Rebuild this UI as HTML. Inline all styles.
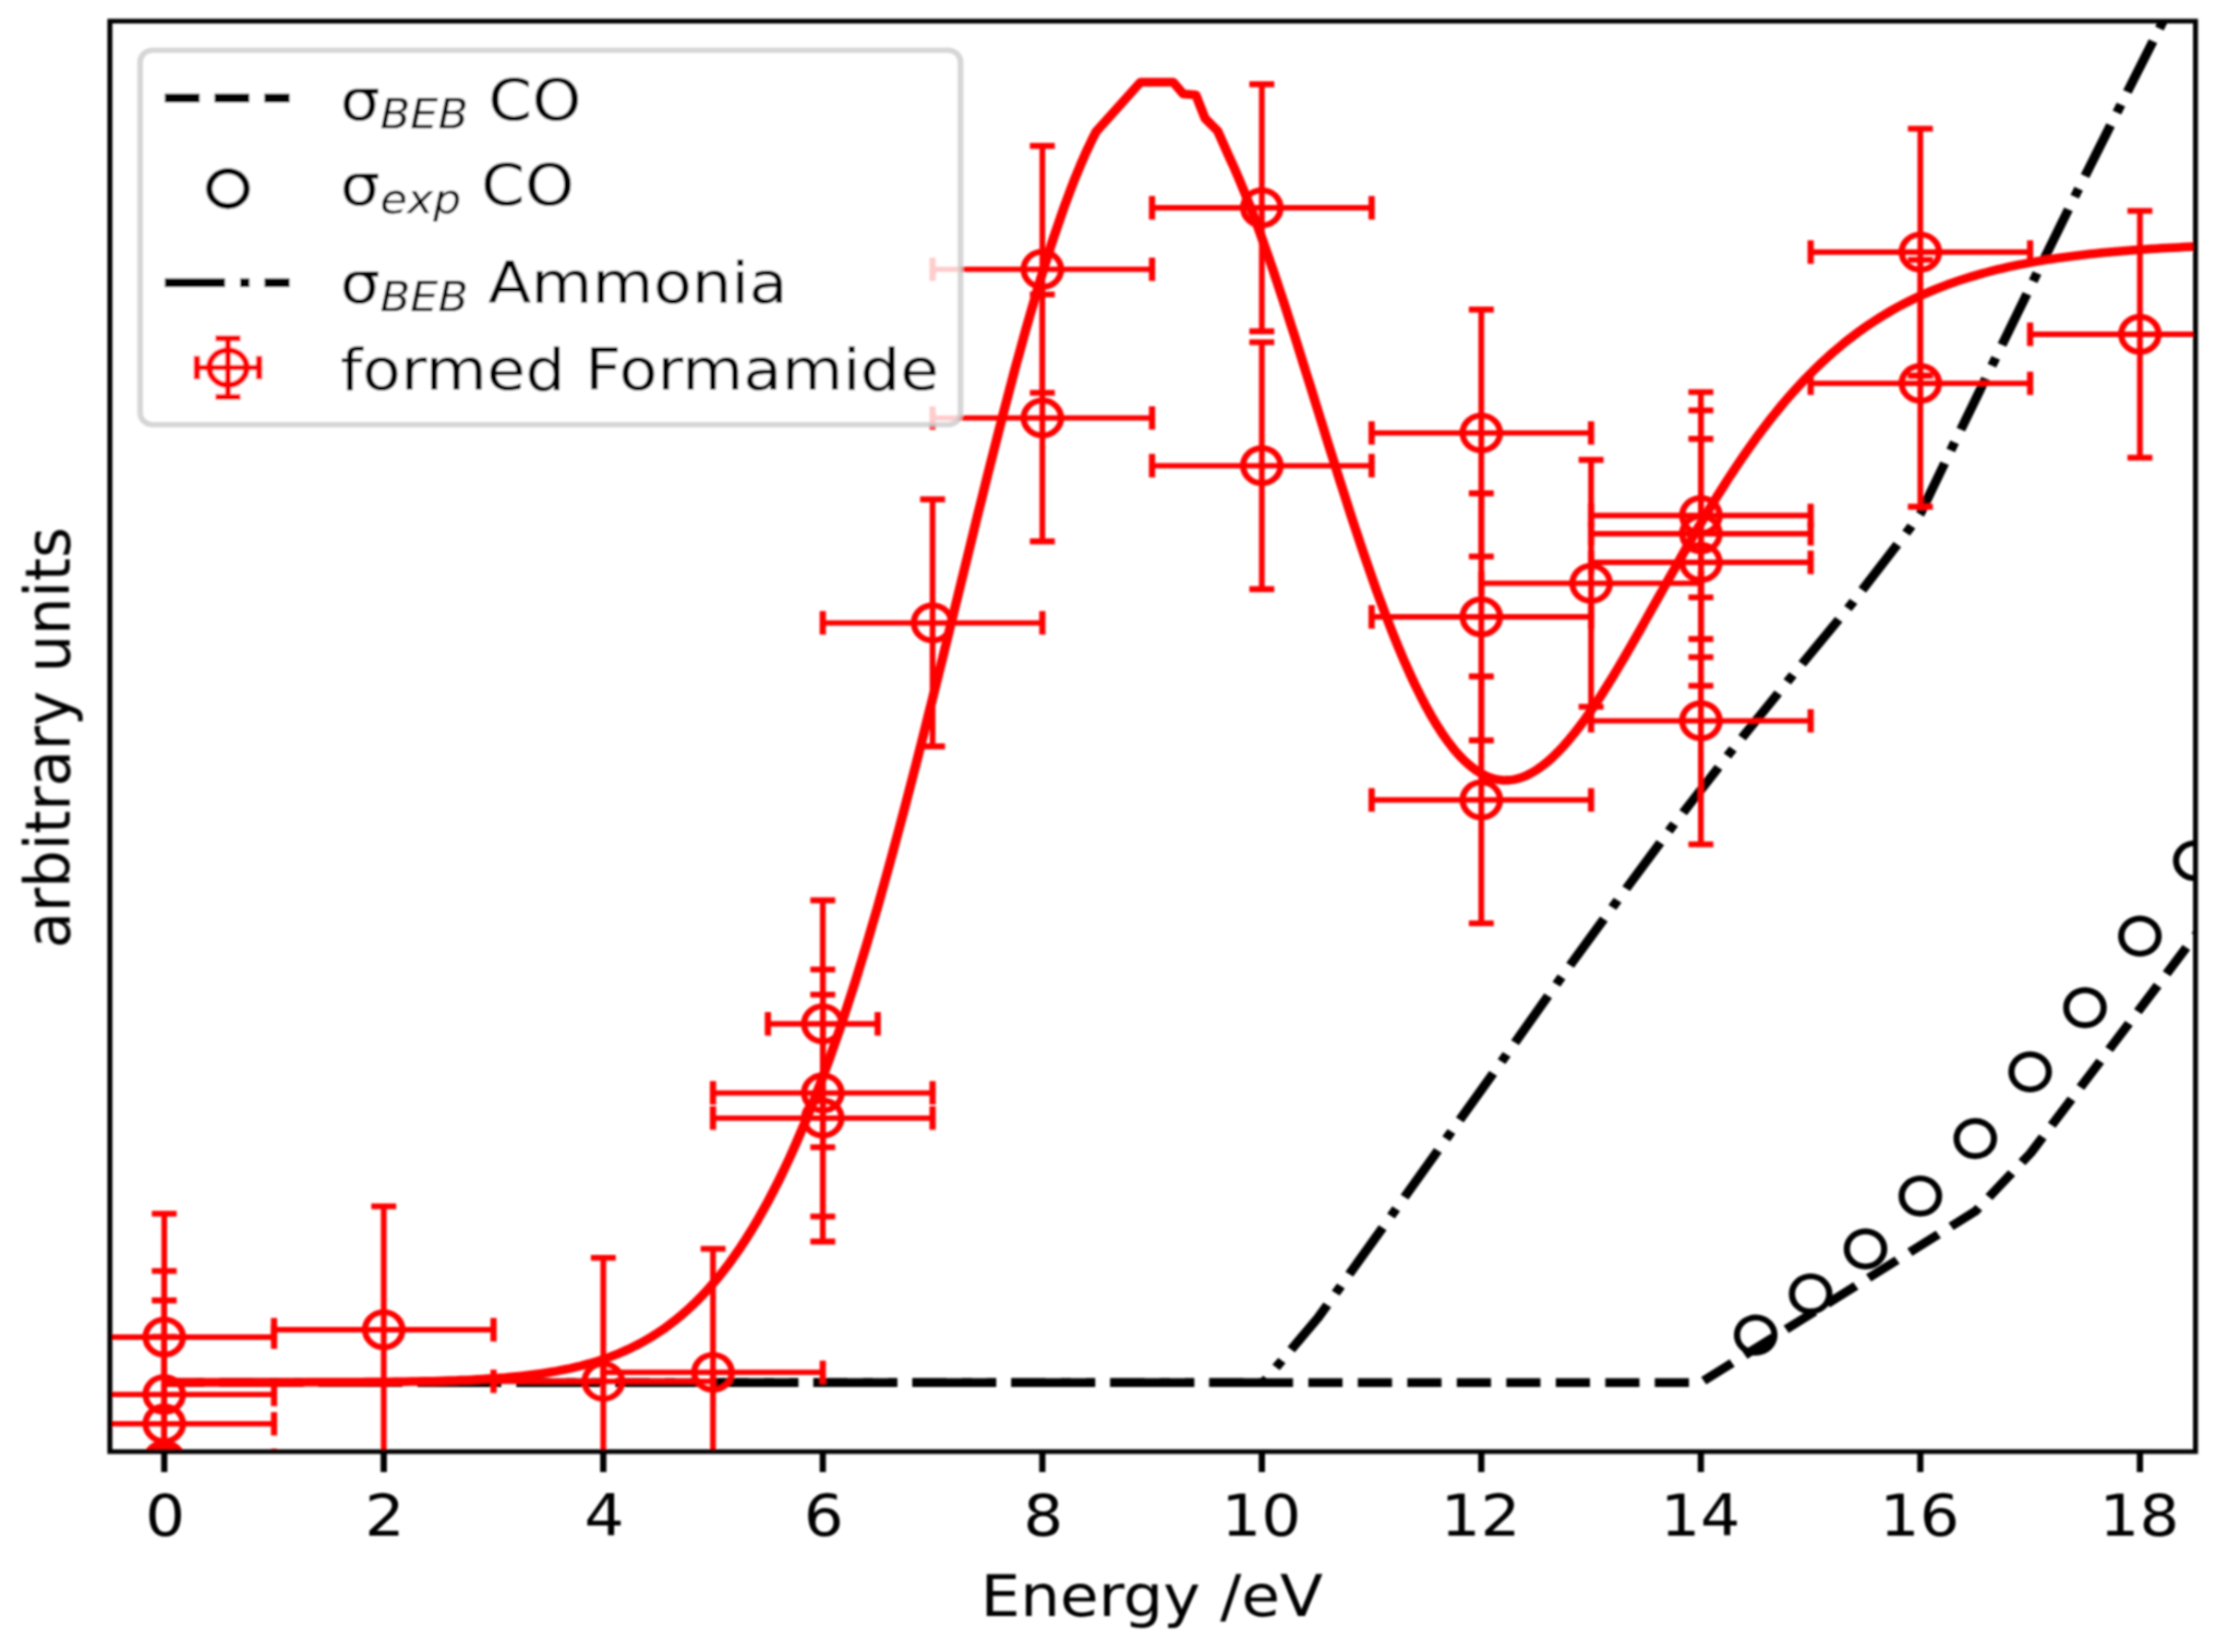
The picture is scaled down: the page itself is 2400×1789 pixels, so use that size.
<!DOCTYPE html>
<html><head><meta charset="utf-8"><title>Formamide formation vs electron energy</title>
<style>html,body{margin:0;padding:0;background:#fff}svg{display:block}</style></head>
<body><svg width="2400" height="1789" viewBox="0 0 2400 1789" font-family="'DejaVu Sans','Liberation Sans',sans-serif">
<rect width="2400" height="1789" fill="#fff"/>
<defs><clipPath id="ax"><rect x="119.0" y="24.36" width="2258.8" height="1647.98"/></clipPath></defs>
<defs><filter id="soft" filterUnits="userSpaceOnUse" x="-20" y="-20" width="2440" height="1830"><feGaussianBlur stdDeviation="1.3"/></filter></defs>
<g filter="url(#soft)">
<g transform="scale(1,0.94)">
<g clip-path="url(#ax)">
<path d="M178.0,1592.9 L1841.9,1592.9 L2139.6,1395.3 L2199.1,1328.6 L2377.4,1078.3 L2400.0,1046.6" fill="none" stroke="#000" stroke-width="10.12" stroke-dasharray="37 16.6" stroke-dashoffset="47.4" stroke-linejoin="round"/>
<path d="M178.0,1592.9 L1368.0,1592.9 L1427.5,1518.1 L1450.0,1484.8 L1509.9,1395.9 L1569.0,1308.0 L1628.9,1219.0 L1688.8,1129.1 L1749.3,1040.9 L1810.9,952.4 L1874.1,866.5 L1938.9,781.3 L2004.8,696.4 L2067.7,609.6 L2080.2,591.0 L2115.1,513.6 L2159.5,416.4 L2204.4,318.6 L2249.3,221.6 L2295.1,124.6 L2340.6,28.9 L2355.0,-1.6" fill="none" stroke="#000" stroke-width="10.12" stroke-dasharray="64.7 16.2 10.1 16.2" stroke-dashoffset="47.6" stroke-linejoin="round"/>
<circle cx="1901.5" cy="1538.1" r="20.25" fill="none" stroke="#000" stroke-width="6.75"/>
<circle cx="1961.0" cy="1490.6" r="20.25" fill="none" stroke="#000" stroke-width="6.75"/>
<circle cx="2020.4" cy="1438.9" r="20.25" fill="none" stroke="#000" stroke-width="6.75"/>
<circle cx="2079.8" cy="1377.9" r="20.25" fill="none" stroke="#000" stroke-width="6.75"/>
<circle cx="2139.3" cy="1311.7" r="20.25" fill="none" stroke="#000" stroke-width="6.75"/>
<circle cx="2198.7" cy="1234.9" r="20.25" fill="none" stroke="#000" stroke-width="6.75"/>
<circle cx="2258.1" cy="1160.9" r="20.25" fill="none" stroke="#000" stroke-width="6.75"/>
<circle cx="2317.6" cy="1078.5" r="20.25" fill="none" stroke="#000" stroke-width="6.75"/>
<circle cx="2377.0" cy="991.6" r="20.25" fill="none" stroke="#000" stroke-width="6.75"/>
<path d="M177.9,1592.5 L183.8,1592.5 L189.8,1592.5 L195.7,1592.5 L201.7,1592.5 L207.6,1592.5 L213.6,1592.5 L219.5,1592.5 L225.4,1592.5 L231.4,1592.5 L237.3,1592.5 L243.3,1592.5 L249.2,1592.5 L255.2,1592.5 L261.1,1592.5 L267.1,1592.5 L273.0,1592.5 L278.9,1592.5 L284.9,1592.5 L290.8,1592.5 L296.8,1592.5 L302.7,1592.5 L308.7,1592.5 L314.6,1592.5 L320.5,1592.5 L326.5,1592.5 L332.4,1592.4 L338.4,1592.4 L344.3,1592.4 L350.3,1592.4 L356.2,1592.4 L362.1,1592.3 L368.1,1592.3 L374.0,1592.3 L380.0,1592.3 L385.9,1592.2 L391.9,1592.2 L397.8,1592.1 L403.8,1592.1 L409.7,1592.0 L415.6,1592.0 L421.6,1591.9 L427.5,1591.8 L433.5,1591.8 L439.4,1591.7 L445.4,1591.6 L451.3,1591.5 L457.2,1591.3 L463.2,1591.2 L469.1,1591.1 L475.1,1590.9 L481.0,1590.7 L487.0,1590.5 L492.9,1590.3 L498.8,1590.0 L504.8,1589.8 L510.7,1589.5 L516.7,1589.2 L522.6,1588.8 L528.6,1588.4 L534.5,1588.0 L540.5,1587.6 L546.4,1587.1 L552.3,1586.5 L558.3,1585.9 L564.2,1585.3 L570.2,1584.6 L576.1,1583.8 L582.1,1583.0 L588.0,1582.1 L593.9,1581.1 L599.9,1580.1 L605.8,1578.9 L611.8,1577.7 L617.7,1576.4 L623.7,1574.9 L629.6,1573.4 L635.5,1571.7 L641.5,1569.9 L647.4,1568.0 L653.4,1565.9 L659.3,1563.7 L665.3,1561.3 L671.2,1558.8 L677.2,1556.0 L683.1,1553.1 L689.0,1550.0 L695.0,1546.6 L700.9,1543.1 L706.9,1539.3 L712.8,1535.2 L718.8,1531.0 L724.7,1526.4 L730.6,1521.6 L736.6,1516.4 L742.5,1511.0 L748.5,1505.2 L754.4,1499.2 L760.4,1492.7 L766.3,1485.9 L772.2,1478.8 L778.2,1471.3 L784.1,1463.3 L790.1,1455.0 L796.0,1446.2 L802.0,1437.0 L807.9,1427.4 L813.9,1417.3 L819.8,1406.8 L825.7,1395.7 L831.7,1384.2 L837.6,1372.2 L843.6,1359.7 L849.5,1346.7 L855.5,1333.1 L861.4,1319.1 L867.3,1304.4 L873.3,1289.3 L879.2,1273.6 L885.2,1257.4 L891.1,1240.7 L897.1,1223.4 L903.0,1205.5 L909.0,1187.2 L914.9,1168.3 L920.8,1148.9 L926.8,1129.0 L932.7,1108.5 L938.7,1087.6 L944.6,1066.2 L950.6,1044.3 L956.5,1022.0 L962.4,999.3 L968.4,976.1 L974.3,952.6 L980.3,928.7 L986.2,904.5 L992.2,879.9 L998.1,855.1 L1004.0,830.0 L1010.0,804.7 L1015.9,779.3 L1021.9,753.7 L1027.8,727.9 L1033.8,702.1 L1039.7,676.3 L1045.7,650.5 L1051.6,624.7 L1057.5,599.0 L1063.5,573.5 L1069.4,548.1 L1075.4,523.0 L1081.3,498.2 L1087.3,473.6 L1093.2,449.5 L1099.1,425.7 L1105.1,402.5 L1111.0,379.7 L1117.0,357.5 L1122.9,335.8 L1128.9,314.8 L1134.8,294.5 L1140.7,275.0 L1146.7,256.2 L1152.6,238.2 L1158.6,221.0 L1164.5,204.7 L1170.5,189.4 L1176.4,175.0 L1182.4,161.6 L1187.1,151.7 L1235.2,94.7 L1270.6,94.7 L1281.5,108.2 L1295.1,109.3 L1305.1,136.3 L1318.7,150.7 L1330.9,179.9 L1336.9,193.8 L1342.8,208.5 L1348.8,224.0 L1354.7,240.1 L1360.7,256.8 L1366.6,274.2 L1372.5,292.0 L1378.5,310.4 L1384.4,329.2 L1390.4,348.4 L1396.3,367.9 L1402.3,387.6 L1408.2,407.6 L1414.1,427.8 L1420.1,448.1 L1426.0,468.4 L1432.0,488.8 L1437.9,509.1 L1443.9,529.3 L1449.8,549.4 L1455.8,569.2 L1461.7,588.9 L1467.6,608.2 L1473.6,627.2 L1479.5,645.8 L1485.5,664.0 L1491.4,681.8 L1497.4,699.0 L1503.3,715.7 L1509.2,731.8 L1515.2,747.3 L1521.1,762.2 L1527.1,776.4 L1533.0,789.9 L1539.0,802.7 L1544.9,814.7 L1550.8,826.0 L1556.8,836.5 L1562.7,846.2 L1568.7,855.1 L1574.6,863.2 L1580.6,870.5 L1586.5,876.9 L1592.5,882.5 L1598.4,887.3 L1604.3,891.2 L1610.3,894.4 L1616.2,896.7 L1622.2,898.2 L1628.1,898.9 L1634.1,898.8 L1640.0,898.0 L1645.9,896.4 L1651.9,894.1 L1657.8,891.0 L1663.8,887.3 L1669.7,882.9 L1675.7,877.9 L1681.6,872.3 L1687.5,866.1 L1693.5,859.4 L1699.4,852.1 L1705.4,844.3 L1711.3,836.1 L1717.3,827.5 L1723.2,818.5 L1729.2,809.1 L1735.1,799.4 L1741.0,789.4 L1747.0,779.1 L1752.9,768.6 L1758.9,757.9 L1764.8,747.0 L1770.8,736.0 L1776.7,724.9 L1782.6,713.7 L1788.6,702.5 L1794.5,691.2 L1800.5,679.9 L1806.4,668.6 L1812.4,657.4 L1818.3,646.3 L1824.2,635.2 L1830.2,624.2 L1836.1,613.4 L1842.1,602.6 L1848.0,592.1 L1854.0,581.7 L1859.9,571.4 L1865.9,561.4 L1871.8,551.5 L1877.7,541.9 L1883.7,532.4 L1889.6,523.2 L1895.6,514.2 L1901.5,505.4 L1907.5,496.9 L1913.4,488.5 L1919.3,480.4 L1925.3,472.6 L1931.2,464.9 L1937.2,457.5 L1943.1,450.4 L1949.1,443.4 L1955.0,436.7 L1961.0,430.2 L1966.9,423.9 L1972.8,417.9 L1978.8,412.0 L1984.7,406.4 L1990.7,401.0 L1996.6,395.7 L2002.6,390.7 L2008.5,385.9 L2014.4,381.2 L2020.4,376.7 L2026.3,372.4 L2032.3,368.3 L2038.2,364.3 L2044.2,360.5 L2050.1,356.8 L2056.0,353.3 L2062.0,350.0 L2067.9,346.8 L2073.9,343.7 L2079.8,340.7 L2085.8,337.9 L2091.7,335.2 L2097.7,332.6 L2103.6,330.1 L2109.5,327.7 L2115.5,325.5 L2121.4,323.3 L2127.4,321.2 L2133.3,319.3 L2139.3,317.4 L2145.2,315.6 L2151.1,313.8 L2157.1,312.2 L2163.0,310.6 L2169.0,309.1 L2174.9,307.7 L2180.9,306.3 L2186.8,305.0 L2192.7,303.8 L2198.7,302.6 L2204.6,301.4 L2210.6,300.4 L2216.5,299.3 L2222.5,298.4 L2228.4,297.4 L2234.4,296.5 L2240.3,295.7 L2246.2,294.9 L2252.2,294.1 L2258.1,293.4 L2264.1,292.6 L2270.0,292.0 L2276.0,291.3 L2281.9,290.7 L2287.8,290.2 L2293.8,289.6 L2299.7,289.1 L2305.7,288.6 L2311.6,288.1 L2317.6,287.6 L2323.5,287.2 L2329.4,286.8 L2335.4,286.4 L2341.3,286.0 L2347.3,285.7 L2353.2,285.3 L2359.2,285.0 L2365.1,284.7 L2371.1,284.4 L2377.0,284.1 L2382.9,283.9 L2388.9,283.6 L2394.8,283.4" fill="none" stroke="#f00" stroke-width="10.12" stroke-linejoin="round" stroke-linecap="butt"/>
<circle cx="177.9" cy="1540.4" r="20.25" fill="none" stroke="#f00" stroke-width="6.75"/><path d="M59.0,1540.4H296.8M177.9,1398.2V1682.7" stroke="#f00" stroke-width="6.21" fill="none"/><path d="M59.0,1526.9v27.0M296.8,1526.9v27.0M164.4,1398.2h27.0M164.4,1682.7h27.0" stroke="#f00" stroke-width="6.75" fill="none"/>
<circle cx="177.9" cy="1606.5" r="20.25" fill="none" stroke="#f00" stroke-width="6.75"/><path d="M59.0,1606.5H296.8M177.9,1464.3V1748.7" stroke="#f00" stroke-width="6.21" fill="none"/><path d="M59.0,1593.0v27.0M296.8,1593.0v27.0M164.4,1464.3h27.0M164.4,1748.7h27.0" stroke="#f00" stroke-width="6.75" fill="none"/>
<circle cx="177.9" cy="1640.3" r="20.25" fill="none" stroke="#f00" stroke-width="6.75"/><path d="M59.0,1640.3H296.8M177.9,1498.1V1782.6" stroke="#f00" stroke-width="6.21" fill="none"/><path d="M59.0,1626.8v27.0M296.8,1626.8v27.0M164.4,1498.1h27.0M164.4,1782.6h27.0" stroke="#f00" stroke-width="6.75" fill="none"/>
<circle cx="177.9" cy="1682.4" r="20.25" fill="none" stroke="#f00" stroke-width="6.75"/><path d="M59.0,1682.4H296.8M177.9,1540.2V1824.7" stroke="#f00" stroke-width="6.21" fill="none"/><path d="M59.0,1668.9v27.0M296.8,1668.9v27.0M164.4,1540.2h27.0M164.4,1824.7h27.0" stroke="#f00" stroke-width="6.75" fill="none"/>
<circle cx="415.6" cy="1531.9" r="20.25" fill="none" stroke="#f00" stroke-width="6.75"/><path d="M296.8,1531.9H534.5M415.6,1389.7V1674.1" stroke="#f00" stroke-width="6.21" fill="none"/><path d="M296.8,1518.4v27.0M534.5,1518.4v27.0M402.1,1389.7h27.0M402.1,1674.1h27.0" stroke="#f00" stroke-width="6.75" fill="none"/>
<circle cx="653.4" cy="1591.4" r="20.25" fill="none" stroke="#f00" stroke-width="6.75"/><path d="M534.5,1591.4H772.2M653.4,1449.1V1733.6" stroke="#f00" stroke-width="6.21" fill="none"/><path d="M534.5,1577.9v27.0M772.2,1577.9v27.0M639.9,1449.1h27.0M639.9,1733.6h27.0" stroke="#f00" stroke-width="6.75" fill="none"/>
<circle cx="772.2" cy="1581.0" r="20.25" fill="none" stroke="#f00" stroke-width="6.75"/><path d="M653.4,1581.0H891.1M772.2,1438.7V1723.2" stroke="#f00" stroke-width="6.21" fill="none"/><path d="M653.4,1567.5v27.0M891.1,1567.5v27.0M758.8,1438.7h27.0M758.8,1723.2h27.0" stroke="#f00" stroke-width="6.75" fill="none"/>
<circle cx="891.1" cy="1179.5" r="20.25" fill="none" stroke="#f00" stroke-width="6.75"/><path d="M831.7,1179.5H950.6M891.1,1037.2V1321.7" stroke="#f00" stroke-width="6.21" fill="none"/><path d="M831.7,1166.0v27.0M950.6,1166.0v27.0M877.6,1037.2h27.0M877.6,1321.7h27.0" stroke="#f00" stroke-width="6.75" fill="none"/>
<circle cx="891.1" cy="1259.1" r="20.25" fill="none" stroke="#f00" stroke-width="6.75"/><path d="M772.2,1259.1H1010.0M891.1,1116.9V1401.4" stroke="#f00" stroke-width="6.21" fill="none"/><path d="M772.2,1245.6v27.0M1010.0,1245.6v27.0M877.6,1116.9h27.0M877.6,1401.4h27.0" stroke="#f00" stroke-width="6.75" fill="none"/>
<circle cx="891.1" cy="1288.1" r="20.25" fill="none" stroke="#f00" stroke-width="6.75"/><path d="M772.2,1288.1H1010.0M891.1,1145.9V1430.3" stroke="#f00" stroke-width="6.21" fill="none"/><path d="M772.2,1274.6v27.0M1010.0,1274.6v27.0M877.6,1145.9h27.0M877.6,1430.3h27.0" stroke="#f00" stroke-width="6.75" fill="none"/>
<circle cx="1010.0" cy="717.6" r="20.25" fill="none" stroke="#f00" stroke-width="6.75"/><path d="M891.1,717.6H1128.9M1010.0,575.3V859.8" stroke="#f00" stroke-width="6.21" fill="none"/><path d="M891.1,704.1v27.0M1128.9,704.1v27.0M996.5,575.3h27.0M996.5,859.8h27.0" stroke="#f00" stroke-width="6.75" fill="none"/>
<circle cx="1128.9" cy="310.3" r="20.25" fill="none" stroke="#f00" stroke-width="6.75"/><path d="M1010.0,310.3H1247.7M1128.9,168.1V452.6" stroke="#f00" stroke-width="6.21" fill="none"/><path d="M1010.0,296.8v27.0M1247.7,296.8v27.0M1115.4,168.1h27.0M1115.4,452.6h27.0" stroke="#f00" stroke-width="6.75" fill="none"/>
<circle cx="1128.9" cy="481.5" r="20.25" fill="none" stroke="#f00" stroke-width="6.75"/><path d="M1010.0,481.5H1247.7M1128.9,339.3V623.7" stroke="#f00" stroke-width="6.21" fill="none"/><path d="M1010.0,468.0v27.0M1247.7,468.0v27.0M1115.4,339.3h27.0M1115.4,623.7h27.0" stroke="#f00" stroke-width="6.75" fill="none"/>
<circle cx="1366.6" cy="239.4" r="20.25" fill="none" stroke="#f00" stroke-width="6.75"/><path d="M1247.7,239.4H1485.5M1366.6,97.1V381.6" stroke="#f00" stroke-width="6.21" fill="none"/><path d="M1247.7,225.9v27.0M1485.5,225.9v27.0M1353.1,97.1h27.0M1353.1,381.6h27.0" stroke="#f00" stroke-width="6.75" fill="none"/>
<circle cx="1366.6" cy="536.5" r="20.25" fill="none" stroke="#f00" stroke-width="6.75"/><path d="M1247.7,536.5H1485.5M1366.6,394.3V678.7" stroke="#f00" stroke-width="6.21" fill="none"/><path d="M1247.7,523.0v27.0M1485.5,523.0v27.0M1353.1,394.3h27.0M1353.1,678.7h27.0" stroke="#f00" stroke-width="6.75" fill="none"/>
<circle cx="1604.3" cy="498.8" r="20.25" fill="none" stroke="#f00" stroke-width="6.75"/><path d="M1485.5,498.8H1723.2M1604.3,356.6V641.1" stroke="#f00" stroke-width="6.21" fill="none"/><path d="M1485.5,485.3v27.0M1723.2,485.3v27.0M1590.8,356.6h27.0M1590.8,641.1h27.0" stroke="#f00" stroke-width="6.75" fill="none"/>
<circle cx="1604.3" cy="710.6" r="20.25" fill="none" stroke="#f00" stroke-width="6.75"/><path d="M1485.5,710.6H1723.2M1604.3,568.4V852.9" stroke="#f00" stroke-width="6.21" fill="none"/><path d="M1485.5,697.1v27.0M1723.2,697.1v27.0M1590.8,568.4h27.0M1590.8,852.9h27.0" stroke="#f00" stroke-width="6.75" fill="none"/>
<circle cx="1604.3" cy="921.5" r="20.25" fill="none" stroke="#f00" stroke-width="6.75"/><path d="M1485.5,921.5H1723.2M1604.3,779.3V1063.7" stroke="#f00" stroke-width="6.21" fill="none"/><path d="M1485.5,908.0v27.0M1723.2,908.0v27.0M1590.8,779.3h27.0M1590.8,1063.7h27.0" stroke="#f00" stroke-width="6.75" fill="none"/>
<circle cx="1723.2" cy="672.0" r="20.25" fill="none" stroke="#f00" stroke-width="6.75"/><path d="M1604.3,672.0H1842.1M1723.2,529.8V814.3" stroke="#f00" stroke-width="6.21" fill="none"/><path d="M1604.3,658.5v27.0M1842.1,658.5v27.0M1709.7,529.8h27.0M1709.7,814.3h27.0" stroke="#f00" stroke-width="6.75" fill="none"/>
<circle cx="1842.1" cy="593.9" r="20.25" fill="none" stroke="#f00" stroke-width="6.75"/><path d="M1723.2,593.9H1961.0M1842.1,451.7V736.2" stroke="#f00" stroke-width="6.21" fill="none"/><path d="M1723.2,580.4v27.0M1961.0,580.4v27.0M1828.6,451.7h27.0M1828.6,736.2h27.0" stroke="#f00" stroke-width="6.75" fill="none"/>
<circle cx="1842.1" cy="614.9" r="20.25" fill="none" stroke="#f00" stroke-width="6.75"/><path d="M1723.2,614.9H1961.0M1842.1,472.7V757.1" stroke="#f00" stroke-width="6.21" fill="none"/><path d="M1723.2,601.4v27.0M1961.0,601.4v27.0M1828.6,472.7h27.0M1828.6,757.1h27.0" stroke="#f00" stroke-width="6.75" fill="none"/>
<circle cx="1842.1" cy="647.9" r="20.25" fill="none" stroke="#f00" stroke-width="6.75"/><path d="M1723.2,647.9H1961.0M1842.1,505.6V790.1" stroke="#f00" stroke-width="6.21" fill="none"/><path d="M1723.2,634.4v27.0M1961.0,634.4v27.0M1828.6,505.6h27.0M1828.6,790.1h27.0" stroke="#f00" stroke-width="6.75" fill="none"/>
<circle cx="1842.1" cy="830.4" r="20.25" fill="none" stroke="#f00" stroke-width="6.75"/><path d="M1723.2,830.4H1961.0M1842.1,688.2V972.7" stroke="#f00" stroke-width="6.21" fill="none"/><path d="M1723.2,816.9v27.0M1961.0,816.9v27.0M1828.6,688.2h27.0M1828.6,972.7h27.0" stroke="#f00" stroke-width="6.75" fill="none"/>
<circle cx="2079.8" cy="290.4" r="20.25" fill="none" stroke="#f00" stroke-width="6.75"/><path d="M1961.0,290.4H2198.7M2079.8,148.2V432.7" stroke="#f00" stroke-width="6.21" fill="none"/><path d="M1961.0,276.9v27.0M2198.7,276.9v27.0M2066.3,148.2h27.0M2066.3,432.7h27.0" stroke="#f00" stroke-width="6.75" fill="none"/>
<circle cx="2079.8" cy="441.6" r="20.25" fill="none" stroke="#f00" stroke-width="6.75"/><path d="M1961.0,441.6H2198.7M2079.8,299.4V583.8" stroke="#f00" stroke-width="6.21" fill="none"/><path d="M1961.0,428.1v27.0M2198.7,428.1v27.0M2066.3,299.4h27.0M2066.3,583.8h27.0" stroke="#f00" stroke-width="6.75" fill="none"/>
<circle cx="2317.6" cy="385.1" r="20.25" fill="none" stroke="#f00" stroke-width="6.75"/><path d="M2198.7,385.1H2436.4M2317.6,242.9V527.3" stroke="#f00" stroke-width="6.21" fill="none"/><path d="M2198.7,371.6v27.0M2436.4,371.6v27.0M2304.1,242.9h27.0M2304.1,527.3h27.0" stroke="#f00" stroke-width="6.75" fill="none"/>
<circle cx="177.9" cy="1687.8" r="20.25" fill="none" stroke="#f00" stroke-width="6.75"/>
</g>
<rect x="151.8" y="57.9" width="888.5" height="431.3" rx="13.5" ry="13.5" fill="#fff" fill-opacity="0.8" stroke="#ccc" stroke-opacity="0.8" stroke-width="6.21"/>
<path d="M178.6,113.0H313.6" stroke="#000" stroke-width="10.12" stroke-dasharray="37.6 16.3" fill="none"/>
<circle cx="246.9" cy="217.2" r="20.25" fill="none" stroke="#000" stroke-width="6.75"/>
<path d="M178.6,325.9H313.6" stroke="#000" stroke-width="10.12" stroke-dasharray="65.1 16.3 10.2 16.3" fill="none"/>
<circle cx="246.9" cy="423.5" r="20.25" fill="none" stroke="#f00" stroke-width="6.75"/><path d="M213.2,423.5H280.7M246.9,389.8V457.3" stroke="#f00" stroke-width="6.21" fill="none"/><path d="M213.2,410.0v27.0M280.7,410.0v27.0M233.4,389.8h27.0M233.4,457.3h27.0" stroke="#f00" stroke-width="6.75" fill="none"/>
<text transform="translate(368.6,138.7) scale(1.015,1)" font-size="67.0">σ<tspan font-size="46.90" font-style="italic" dy="9.6">BEB</tspan><tspan dy="-9.6"> CO</tspan></text>
<text transform="translate(368.6,236.4) scale(1.015,1)" font-size="67.0">σ<tspan font-size="46.90" font-style="italic" dy="9.6">exp</tspan><tspan dy="-9.6"> CO</tspan></text>
<text transform="translate(368.6,349.4) scale(1.015,1)" font-size="67.0">σ<tspan font-size="46.90" font-style="italic" dy="9.6">BEB</tspan><tspan dy="-9.6"> Ammonia</tspan></text>
<text transform="translate(368.6,449.4) scale(1.015,1)" font-size="67.0">formed Formamide</text>
<rect x="119.0" y="24.36" width="2258.8" height="1647.98" fill="none" stroke="#000" stroke-width="5.40" stroke-linejoin="miter"/>
<path d="M177.9,1672.3v23.6" stroke="#000" stroke-width="6.75" fill="none"/>
<text transform="translate(178.9,1769.1) scale(1.015,1)" font-size="67.0" text-anchor="middle">0</text>
<path d="M415.6,1672.3v23.6" stroke="#000" stroke-width="6.75" fill="none"/>
<text transform="translate(416.6,1769.1) scale(1.015,1)" font-size="67.0" text-anchor="middle">2</text>
<path d="M653.4,1672.3v23.6" stroke="#000" stroke-width="6.75" fill="none"/>
<text transform="translate(654.4,1769.1) scale(1.015,1)" font-size="67.0" text-anchor="middle">4</text>
<path d="M891.1,1672.3v23.6" stroke="#000" stroke-width="6.75" fill="none"/>
<text transform="translate(892.1,1769.1) scale(1.015,1)" font-size="67.0" text-anchor="middle">6</text>
<path d="M1128.9,1672.3v23.6" stroke="#000" stroke-width="6.75" fill="none"/>
<text transform="translate(1129.9,1769.1) scale(1.015,1)" font-size="67.0" text-anchor="middle">8</text>
<path d="M1366.6,1672.3v23.6" stroke="#000" stroke-width="6.75" fill="none"/>
<text transform="translate(1365.9,1769.1) scale(1.015,1)" font-size="67.0" text-anchor="middle">10</text>
<path d="M1604.3,1672.3v23.6" stroke="#000" stroke-width="6.75" fill="none"/>
<text transform="translate(1603.6,1769.1) scale(1.015,1)" font-size="67.0" text-anchor="middle">12</text>
<path d="M1842.1,1672.3v23.6" stroke="#000" stroke-width="6.75" fill="none"/>
<text transform="translate(1841.4,1769.1) scale(1.015,1)" font-size="67.0" text-anchor="middle">14</text>
<path d="M2079.8,1672.3v23.6" stroke="#000" stroke-width="6.75" fill="none"/>
<text transform="translate(2079.1,1769.1) scale(1.015,1)" font-size="67.0" text-anchor="middle">16</text>
<path d="M2317.6,1672.3v23.6" stroke="#000" stroke-width="6.75" fill="none"/>
<text transform="translate(2316.9,1769.1) scale(1.015,1)" font-size="67.0" text-anchor="middle">18</text>
<text transform="translate(1247.4,1861.9) scale(1.015,1)" font-size="67.0" text-anchor="middle">Energy /eV</text>
<text transform="translate(75.5,849.8) rotate(-90) scale(1.015,1)" font-size="67.0" text-anchor="middle">arbitrary units</text>
</g></g></svg></body></html>
